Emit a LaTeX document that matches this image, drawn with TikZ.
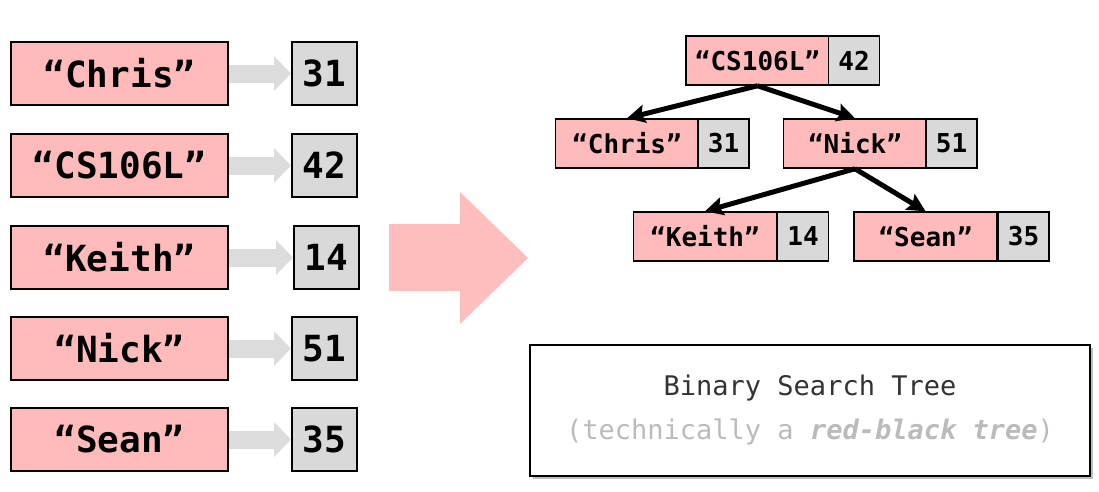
\documentclass[tikz,border=0pt]{standalone}
\usepackage{fontspec}
\setmonofont{DejaVu Sans Mono}
\usetikzlibrary{arrows.meta,shadows}
\definecolor{keypink}{RGB}{255,187,187}
\definecolor{valgray}{RGB}{217,217,217}
\definecolor{arrowgray}{RGB}{220,220,220}
\definecolor{bigpink}{RGB}{255,190,190}
\definecolor{textdark}{RGB}{51,51,51}
\definecolor{textlight}{RGB}{187,187,187}
\begin{document}
\begin{tikzpicture}[x=1pt,y=-1pt]
            \tikzstyle{every node}+=[inner sep=0pt]
            \tikzstyle{key}=[draw=black, fill=keypink, line width=2pt, minimum width=217pt, minimum height=63pt, font=\ttfamily\bfseries\fontsize{36}{40}\selectfont]
            \tikzstyle{val}=[draw=black, fill=valgray, line width=2pt, minimum width=65pt, minimum height=63pt, font=\ttfamily\bfseries\fontsize{36}{40}\selectfont]
            \tikzstyle{tkey}=[draw=black, fill=keypink, line width=1.5pt, minimum width=143pt, minimum height=49pt, font=\ttfamily\bfseries\fontsize{26}{30}\selectfont]
            \tikzstyle{tval}=[draw=black, fill=valgray, line width=1.5pt, minimum width=51pt, minimum height=49pt, font=\ttfamily\bfseries\fontsize{26}{30}\selectfont]
            \tikzstyle{maps}=[draw=arrowgray, line width=18pt, -{Triangle[length=17pt,width=34pt]}]
            \tikzstyle{child}=[draw=black, line width=5pt, -{Stealth[length=18pt,width=18pt,inset=3pt]}]
            \useasboundingbox (0,0) rectangle (1099,491);
            % the map as a list of pairs
            \node [key] (kChris) at (119.5,73.5) {“Chris”};
            \node [val] (vChris) at (324.5,73.5) {31};
            \node [key] (kCS) at (119.5,165.5) {“CS106L”};
            \node [val] (vCS) at (324.5,165.5) {42};
            \node [key] (kKeith) at (119.5,257.5) {“Keith”};
            \node [val] (vKeith) at (326.5,257.5) {14};
            \node [key] (kNick) at (119.5,348.5) {“Nick”};
            \node [val] (vNick) at (324.5,348.5) {51};
            \node [key] (kSean) at (119.5,439.5) {“Sean”};
            \node [val] (vSean) at (324.5,439.5) {35};
            \draw [maps] (kChris) -- (vChris);
            \draw [maps] (kCS) -- (vCS);
            \draw [maps] (kKeith) -- (vKeith);
            \draw [maps] (kNick) -- (vNick);
            \draw [maps] (kSean) -- (vSean);
            % big arrow
            \fill [bigpink] (389,224) -- (460,224) -- (460,192) -- (528,258) -- (460,324) -- (460,291) -- (389,291) -- cycle;
            % the tree
            \node [tkey] (tCS) at (757.5,60.5) {“CS106L”};
            \node [tval] (tvCS) at (854,60.5) {42};
            \node [tkey] (tChris) at (627,143.5) {“Chris”};
            \node [tval] (tvChris) at (723.5,143.5) {31};
            \node [tkey] (tNick) at (855,143.5) {“Nick”};
            \node [tval] (tvNick) at (951.5,143.5) {51};
            \node [tkey] (tKeith) at (705,236.5) {“Keith”};
            \node [tval] (tvKeith) at (803,236.5) {14};
            \node [tkey] (tSean) at (925.5,236.5) {“Sean”};
            \node [tval] (tvSean) at (1023.5,236.5) {35};
            \draw [child] (tCS.south) -- (tChris.north);
            \draw [child] (tCS.south) -- (tNick.north);
            \draw [child] (tNick.south) -- (tKeith.north);
            \draw [child] (tNick.south) -- (tSean.north);
            % caption box
            \node [draw=black, fill=white, line width=2pt, minimum width=560pt, minimum height=131pt, align=center,
                   drop shadow={shadow xshift=3pt, shadow yshift=-3pt, opacity=0.5, fill=gray},
                   font=\ttfamily\fontsize{27}{44}\selectfont] (caption) at (810,410.5)
                  {\color{textdark}Binary Search Tree\\\color{textlight}(technically a \textbf{\textit{red-black tree}})};
        \end{tikzpicture}
\end{document}
